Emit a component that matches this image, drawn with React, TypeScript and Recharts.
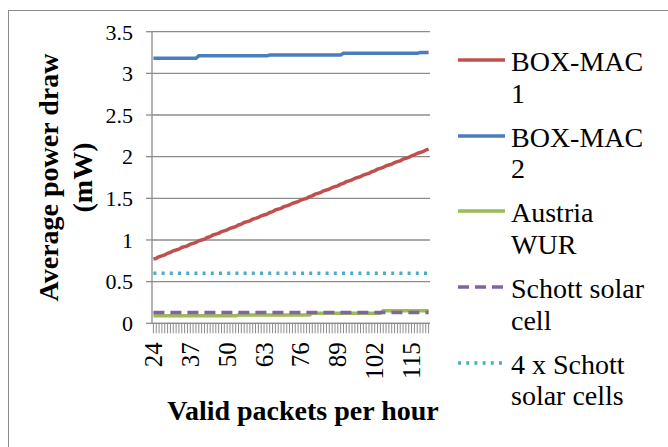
import { CartesianGrid, Label, Legend, Line, LineChart, XAxis, YAxis } from "recharts"

const packetsPerHour = [
  24, 25, 26, 27, 28, 29, 30, 31, 32, 33, 34, 35, 36, 37,
  38, 39, 40, 41, 42, 43, 44, 45, 46, 47, 48, 49, 50, 51,
  52, 53, 54, 55, 56, 57, 58, 59, 60, 61, 62, 63, 64, 65,
  66, 67, 68, 69, 70, 71, 72, 73, 74, 75, 76, 77, 78, 79,
  80, 81, 82, 83, 84, 85, 86, 87, 88, 89, 90, 91, 92, 93,
  94, 95, 96, 97, 98, 99, 100, 101, 102, 103, 104, 105, 106, 107,
  108, 109, 110, 111, 112, 113, 114, 115, 116, 117, 118, 119, 120, 121,
]

const boxMac1 = [
  0.77, 0.78, 0.8, 0.81, 0.82, 0.84, 0.85, 0.87, 0.88, 0.89, 0.91, 0.92, 0.93, 0.95,
  0.96, 0.97, 0.99, 1.0, 1.01, 1.03, 1.04, 1.06, 1.07, 1.08, 1.1, 1.11, 1.12, 1.14,
  1.15, 1.16, 1.18, 1.19, 1.21, 1.22, 1.23, 1.25, 1.26, 1.27, 1.29, 1.3, 1.31, 1.33,
  1.34, 1.36, 1.37, 1.38, 1.4, 1.41, 1.42, 1.44, 1.45, 1.46, 1.48, 1.49, 1.5, 1.52,
  1.53, 1.55, 1.56, 1.57, 1.59, 1.6, 1.61, 1.63, 1.64, 1.65, 1.67, 1.68, 1.7, 1.71,
  1.72, 1.74, 1.75, 1.76, 1.78, 1.79, 1.8, 1.82, 1.83, 1.85, 1.86, 1.87, 1.89, 1.9,
  1.91, 1.93, 1.94, 1.95, 1.97, 1.98, 1.99, 2.01, 2.02, 2.04, 2.05, 2.06, 2.08, 2.09,
]

const boxMac2 = [
  3.18, 3.18, 3.18, 3.18, 3.18, 3.18, 3.18, 3.18, 3.18, 3.18, 3.18, 3.18, 3.18, 3.18,
  3.18, 3.18, 3.21, 3.21, 3.21, 3.21, 3.21, 3.21, 3.21, 3.21, 3.21, 3.21, 3.21, 3.21,
  3.21, 3.21, 3.21, 3.21, 3.21, 3.21, 3.21, 3.21, 3.21, 3.21, 3.21, 3.21, 3.21, 3.22,
  3.22, 3.22, 3.22, 3.22, 3.22, 3.22, 3.22, 3.22, 3.22, 3.22, 3.22, 3.22, 3.22, 3.22,
  3.22, 3.22, 3.22, 3.22, 3.22, 3.22, 3.22, 3.22, 3.22, 3.22, 3.22, 3.24, 3.24, 3.24,
  3.24, 3.24, 3.24, 3.24, 3.24, 3.24, 3.24, 3.24, 3.24, 3.24, 3.24, 3.24, 3.24, 3.24,
  3.24, 3.24, 3.24, 3.24, 3.24, 3.24, 3.24, 3.24, 3.24, 3.24, 3.25, 3.25, 3.25, 3.25,
]

const austriaWur = [
  0.09, 0.09, 0.09, 0.09, 0.09, 0.09, 0.09, 0.09, 0.09, 0.09, 0.09, 0.09, 0.09, 0.09,
  0.09, 0.09, 0.09, 0.09, 0.09, 0.09, 0.09, 0.09, 0.09, 0.09, 0.09, 0.09, 0.09, 0.09,
  0.09, 0.09, 0.1, 0.1, 0.1, 0.1, 0.1, 0.1, 0.1, 0.1, 0.1, 0.1, 0.1, 0.1,
  0.1, 0.1, 0.1, 0.1, 0.1, 0.1, 0.1, 0.1, 0.1, 0.1, 0.1, 0.1, 0.1, 0.1,
  0.12, 0.12, 0.12, 0.12, 0.12, 0.12, 0.12, 0.12, 0.12, 0.12, 0.12, 0.12, 0.12, 0.12,
  0.12, 0.12, 0.12, 0.12, 0.12, 0.12, 0.12, 0.12, 0.12, 0.12, 0.12, 0.15, 0.15, 0.15,
  0.15, 0.15, 0.15, 0.15, 0.15, 0.15, 0.15, 0.15, 0.15, 0.15, 0.15, 0.15, 0.15, 0.15,
]

const schottCell = [
  0.13, 0.13, 0.13, 0.13, 0.13, 0.13, 0.13, 0.13, 0.13, 0.13, 0.13, 0.13, 0.13, 0.13,
  0.13, 0.13, 0.13, 0.13, 0.13, 0.13, 0.13, 0.13, 0.13, 0.13, 0.13, 0.13, 0.13, 0.13,
  0.13, 0.13, 0.13, 0.13, 0.13, 0.13, 0.13, 0.13, 0.13, 0.13, 0.13, 0.13, 0.13, 0.13,
  0.13, 0.13, 0.13, 0.13, 0.13, 0.13, 0.13, 0.13, 0.13, 0.13, 0.13, 0.13, 0.13, 0.13,
  0.13, 0.13, 0.13, 0.13, 0.13, 0.13, 0.13, 0.13, 0.13, 0.13, 0.13, 0.13, 0.13, 0.13,
  0.13, 0.13, 0.13, 0.13, 0.13, 0.13, 0.13, 0.13, 0.13, 0.13, 0.13, 0.13, 0.13, 0.13,
  0.13, 0.13, 0.13, 0.13, 0.13, 0.13, 0.13, 0.13, 0.13, 0.13, 0.13, 0.13, 0.13, 0.13,
]

const fourSchottCells = [
  0.6, 0.6, 0.6, 0.6, 0.6, 0.6, 0.6, 0.6, 0.6, 0.6, 0.6, 0.6, 0.6, 0.6,
  0.6, 0.6, 0.6, 0.6, 0.6, 0.6, 0.6, 0.6, 0.6, 0.6, 0.6, 0.6, 0.6, 0.6,
  0.6, 0.6, 0.6, 0.6, 0.6, 0.6, 0.6, 0.6, 0.6, 0.6, 0.6, 0.6, 0.6, 0.6,
  0.6, 0.6, 0.6, 0.6, 0.6, 0.6, 0.6, 0.6, 0.6, 0.6, 0.6, 0.6, 0.6, 0.6,
  0.6, 0.6, 0.6, 0.6, 0.6, 0.6, 0.6, 0.6, 0.6, 0.6, 0.6, 0.6, 0.6, 0.6,
  0.6, 0.6, 0.6, 0.6, 0.6, 0.6, 0.6, 0.6, 0.6, 0.6, 0.6, 0.6, 0.6, 0.6,
  0.6, 0.6, 0.6, 0.6, 0.6, 0.6, 0.6, 0.6, 0.6, 0.6, 0.6, 0.6, 0.6, 0.6,
]

const yTicks = [0, 0.5, 1, 1.5, 2, 2.5, 3, 3.5]
const labelEvery = 13

const series = [
  { key: "boxMac1", name: "BOX-MAC 1", color: "#C0504D", dash: undefined as string | undefined },
  { key: "boxMac2", name: "BOX-MAC 2", color: "#4A7EBB", dash: undefined },
  { key: "austriaWur", name: "Austria WUR", color: "#9BBB59", dash: undefined },
  { key: "schottCell", name: "Schott solar cell", color: "#8064A2", dash: "11 6" },
  { key: "fourSchottCells", name: "4 x Schott solar cells", color: "#4BACC6", dash: "3 5.2" },
]

const data = packetsPerHour.map((p, i) => ({
  packets: p,
  boxMac1: boxMac1[i],
  boxMac2: boxMac2[i],
  austriaWur: austriaWur[i],
  schottCell: schottCell[i],
  fourSchottCells: fourSchottCells[i],
}))

const FONT = "'Liberation Serif', 'Times New Roman', Times, Tinos, 'Noto Serif', 'DejaVu Serif', FreeSerif, 'Nimbus Roman', serif"
const GRAY = "#8c8c8c"
const LEGEND_W = 210

function PacketTick({ x, y, payload }: any) {
  if ((payload.value - packetsPerHour[0]) % labelEvery !== 0) return <g />
  return (
    <text
      x={x}
      y={y}
      transform={`rotate(-90, ${x}, ${y})`}
      textAnchor="end"
      dy="0.34em"
      fontSize={25}
      fontFamily={FONT}
      fill="#000"
    >
      {payload.value}
    </text>
  )
}

function SeriesLegend() {
  return (
    <div style={{ fontFamily: FONT, fontSize: 28, lineHeight: "31.5px", color: "#000" }}>
      {series.map((s) => (
        <div key={s.key} style={{ display: "flex", alignItems: "flex-start", height: 75.7 }}>
          <svg width={53} height={31} style={{ flex: "none" }}>
            <line x1={0} y1={14} x2={47} y2={14} stroke={s.color} strokeWidth={3.5} strokeDasharray={s.dash} />
          </svg>
          <div style={{ width: 150 }}>{s.name}</div>
        </div>
      ))}
    </div>
  )
}

export default function App() {
  return (
    <div style={{ position: "absolute", left: 0, top: 0, width: 668, height: 447, overflow: "hidden", background: "#fff" }}>
      <div style={{ position: "absolute", left: 8, top: 10, width: 700, height: 500, border: `1.5px solid ${GRAY}` }} />
      <div style={{ position: "absolute", left: 0, top: 0 }}>
        {/* legend width is added to the right offset, so margin.right = 238 - LEGEND_W */}
        <LineChart width={668} height={447} data={data} margin={{ top: 31.7, right: 238 - LEGEND_W, bottom: 23.7, left: 0 }}>
          <CartesianGrid vertical={false} stroke={GRAY} strokeWidth={1.3} />
          <XAxis
            dataKey="packets"
            interval={0}
            height={100}
            padding={{ left: 1.4, right: 1.4 }}
            tick={<PacketTick />}
            tickSize={10}
            tickMargin={9}
            tickLine={{ stroke: GRAY, strokeWidth: 1 }}
            axisLine={{ stroke: GRAY, strokeWidth: 1.3 }}
          >
            <Label
              content={({ viewBox }: any) => (
                <text
                  x={viewBox.x + viewBox.width / 2 + 12}
                  y={viewBox.y + 97}
                  textAnchor="middle"
                  fontSize={28}
                  fontWeight="bold"
                  fontFamily={FONT}
                  fill="#000"
                >
                  Valid packets per hour
                </text>
              )}
            />
          </XAxis>
          <YAxis
            width={152}
            domain={[0, 3.5]}
            ticks={yTicks}
            tickSize={6}
            tickMargin={13}
            tick={{ fontSize: 22, fontFamily: FONT, fill: "#000" }}
            tickLine={{ stroke: GRAY, strokeWidth: 1.3 }}
            axisLine={{ stroke: GRAY, strokeWidth: 1.3 }}
          >
            <Label
              content={({ viewBox }: any) => {
                const cy = viewBox.y + viewBox.height / 2
                return (
                  <g fontSize={28} fontWeight="bold" fontFamily={FONT} fill="#000" textAnchor="middle">
                    <text x={58} y={cy} transform={`rotate(-90, 58, ${cy})`}>
                      Average power draw
                    </text>
                    <text x={92} y={cy} transform={`rotate(-90, 92, ${cy})`}>
                      (mW)
                    </text>
                  </g>
                )
              }}
            />
          </YAxis>
          <Legend
            layout="horizontal"
            verticalAlign="middle"
            align="right"
            wrapperStyle={{ left: 458, top: 46, width: LEGEND_W }}
            content={() => <SeriesLegend />}
          />
          {series.map((s) => (
            <Line
              key={s.key}
              dataKey={s.key}
              name={s.name}
              stroke={s.color}
              strokeWidth={3.5}
              strokeDasharray={s.dash}
              dot={false}
              activeDot={false}
              isAnimationActive={false}
            />
          ))}
        </LineChart>
      </div>
    </div>
  )
}
